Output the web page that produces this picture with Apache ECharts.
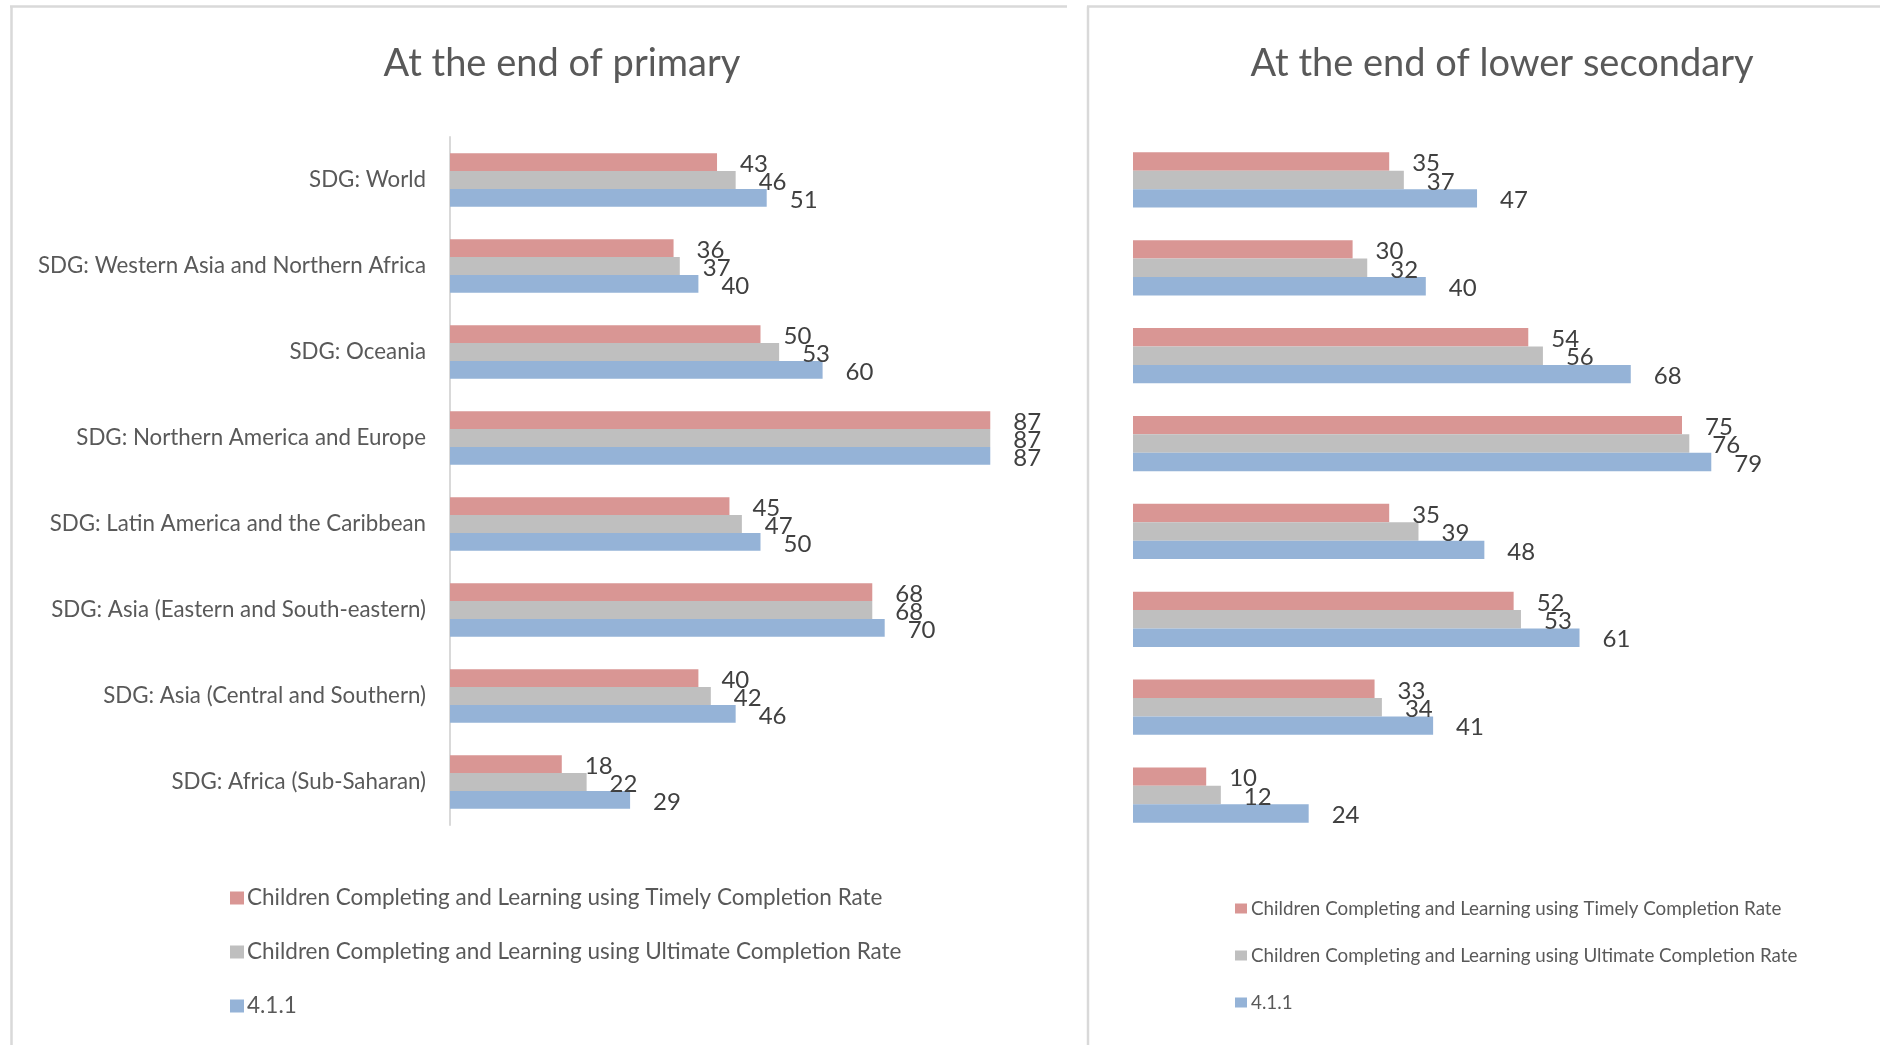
<!DOCTYPE html>
<html>
<head>
<meta charset="utf-8">
<script src="https://cdn.jsdelivr.net/npm/echarts@6/dist/echarts.min.js"></script>
<style>
html,body{margin:0;padding:0;background:#fff;}
#chart{width:1880px;height:1045px;}
</style>
</head>
<body>
<div id="chart"></div>
<script>
const categories = [
  'SDG: World',
  'SDG: Western Asia and Northern Africa',
  'SDG: Oceania',
  'SDG: Northern America and Europe',
  'SDG: Latin America and the Caribbean',
  'SDG: Asia (Eastern and South-eastern)',
  'SDG: Asia (Central and Southern)',
  'SDG: Africa (Sub-Saharan)'
];
const seriesNames = [
  'Children Completing and Learning using Timely Completion Rate',
  'Children Completing and Learning using Ultimate Completion Rate',
  '4.1.1'
];
const primaryTimely   = [43, 36, 50, 87, 45, 68, 40, 18];
const primaryUltimate = [46, 37, 53, 87, 47, 68, 42, 22];
const primary411      = [51, 40, 60, 87, 50, 70, 46, 29];
const lowerTimely     = [35, 30, 54, 75, 35, 52, 33, 10];
const lowerUltimate   = [37, 32, 56, 76, 39, 53, 34, 12];
const lower411        = [47, 40, 68, 79, 48, 61, 41, 24];
const titles = ['At the end of primary', 'At the end of lower secondary'];

const colors = ['#D99694', '#BFBFBF', '#95B3D7'];
const FONT = 'Lato';

const chart = echarts.init(document.getElementById('chart'), null, {renderer: 'canvas'});

function barSeries(name, data, idx, color, width) {
  return {
    type: 'bar', name: name, data: data,
    xAxisIndex: idx, yAxisIndex: idx,
    barWidth: width, barGap: '0%',
    itemStyle: {color: color},
    label: {
      show: true, position: 'right', distance: 23, offset: [0, 2],
      color: '#404040', fontFamily: FONT, fontSize: 24
    },
    emphasis: {disabled: true},
    animation: false
  };
}

const option = {
  animation: false,
  color: colors,
  title: [
    {text: titles[0], left: 562, top: 45, textAlign: 'center', padding: 0,
     textStyle: {fontFamily: FONT, fontSize: 38, fontWeight: 'normal', color: '#595959'}},
    {text: titles[1], left: 1502, top: 45, textAlign: 'center', padding: 0,
     textStyle: {fontFamily: FONT, fontSize: 38, fontWeight: 'normal', color: '#595959'}}
  ],
  legend: [
    {orient: 'vertical', left: 230, top: 885, padding: 0, itemWidth: 14, itemHeight: 13, itemGap: 28,
     icon: 'rect', data: seriesNames, selectedMode: false,
     textStyle: {fontFamily: FONT, fontSize: 22.5, color: '#595959', lineHeight: 26, padding: [0,0,0,-2]}},
    {orient: 'vertical', left: 1235, top: 897.5, padding: 0, itemWidth: 12, itemHeight: 10, itemGap: 25,
     icon: 'rect', data: seriesNames, selectedMode: false,
     textStyle: {fontFamily: FONT, fontSize: 18.8, color: '#595959', lineHeight: 22, padding: [0,0,0,-1]}}
  ],
  grid: [
    {left: 450, top: 137, width: 621, height: 688, containLabel: false},
    {left: 1133, top: 136, width: 732, height: 703, containLabel: false}
  ],
  xAxis: [
    {type: 'value', gridIndex: 0, min: 0, max: 100, show: false},
    {type: 'value', gridIndex: 1, min: 0, max: 100, show: false}
  ],
  yAxis: [
    {type: 'category', gridIndex: 0, data: categories, inverse: true,
     axisLine: {show: true, lineStyle: {color: '#D9D9D9', width: 2}},
     axisTick: {show: false}, splitLine: {show: false},
     axisLabel: {margin: 24, fontFamily: FONT, fontSize: 22.3, color: '#595959'}},
    {type: 'category', gridIndex: 1, data: categories, inverse: true,
     axisLine: {show: false}, axisTick: {show: false}, splitLine: {show: false},
     axisLabel: {show: false}}
  ],
  series: [
    barSeries(seriesNames[0], primaryTimely, 0, colors[0], 17.8),
    barSeries(seriesNames[1], primaryUltimate, 0, colors[1], 17.8),
    barSeries(seriesNames[2], primary411, 0, colors[2], 17.8),
    barSeries(seriesNames[0], lowerTimely, 1, colors[0], 18.4),
    barSeries(seriesNames[1], lowerUltimate, 1, colors[1], 18.4),
    barSeries(seriesNames[2], lower411, 1, colors[2], 18.4)
  ],
  graphic: [
    {type: 'line', shape: {x1: 11.5, y1: 6.5, x2: 11.5, y2: 1045}, style: {stroke: '#D9D9D9', lineWidth: 2.5}, silent: true},
    {type: 'line', shape: {x1: 10, y1: 6.5, x2: 1067, y2: 6.5}, style: {stroke: '#D9D9D9', lineWidth: 2.5}, silent: true},
    {type: 'line', shape: {x1: 1088, y1: 6.5, x2: 1088, y2: 1045}, style: {stroke: '#D9D9D9', lineWidth: 2.5}, silent: true},
    {type: 'line', shape: {x1: 1087, y1: 6.5, x2: 1880, y2: 6.5}, style: {stroke: '#D9D9D9', lineWidth: 2.5}, silent: true}
  ]
};
chart.setOption(option);
</script>
</body>
</html>
